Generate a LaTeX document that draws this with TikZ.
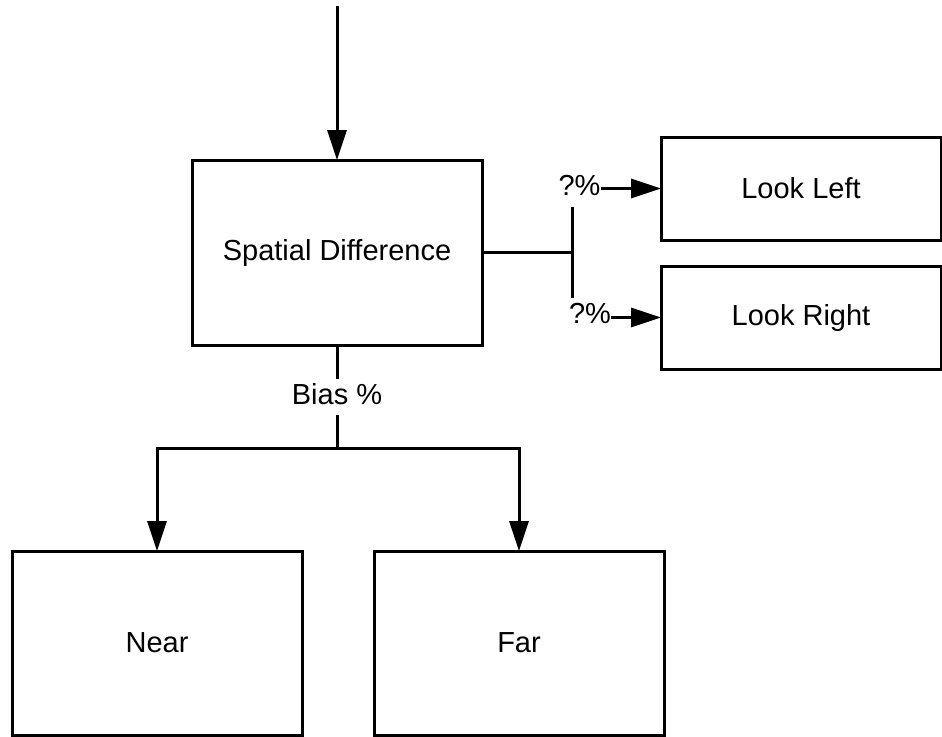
\documentclass[tikz,border=0pt]{standalone}
\usepackage{fontspec}
\setmainfont{Liberation Sans}
\usetikzlibrary{arrows.meta,positioning}

\begin{document}
\begin{tikzpicture}
              [x=1pt,y=-1pt,
                every node/.style={font=\fontsize{29}{34}\selectfont},
                box/.style={draw,line width=3pt,minimum width=290pt,minimum height=185pt,inner sep=0pt,outer sep=0pt},
                side/.style={box,minimum width=280pt,minimum height=103pt},
                pct/.style={inner sep=0pt},
                arr/.style={line width=3pt,-{Triangle[length=30pt,width=19pt]}},
                wire/.style={line width=3pt}]
              \useasboundingbox (0,0) rectangle (942,736);
              \node[box] (sd) at (337,252.5) {Spatial Difference};
              \node[side] (ll) at (801,188.5) {Look Left};
              \node[side,below=26pt of ll] (lr) {Look Right};
              \node[box,minimum height=184pt] (near) at (157,643) {Near};
              \node[box,minimum height=184pt,right=72pt of near] (far) {Far};
              \node[pct] (ql) at (579.5,185.5) {?\%};
              \node[pct] (qr) at (590,313.5) {?\%};
              \node[inner sep=4pt,text depth=7pt] (bias) at (337,397) {Bias \%};
              \coordinate (entry) at (337,6);
              \coordinate (fork) at (572,252.5);
              \coordinate (forkt) at (572,207);
              \coordinate (forkb) at (572,298);
              \coordinate (split) at (337,448);
              % incoming arrow
              \draw[arr] (entry) -- (sd);
              % left / right branch
              \draw[wire] (sd.east) -- (fork);
              \draw[wire] (forkt) -- (forkb);
              \draw[arr] (ql.east |- ll.west) -- (ll.west);
              \draw[arr] (qr.east |- lr.west) -- (lr.west);
              % near / far branch
              \draw[wire] (sd) -- (bias);
              \draw[wire] (bias) -- (split);
              \foreach \to in {near,far}
              \draw[arr] (split) -| (\to);
            \end{tikzpicture}
\end{document}
